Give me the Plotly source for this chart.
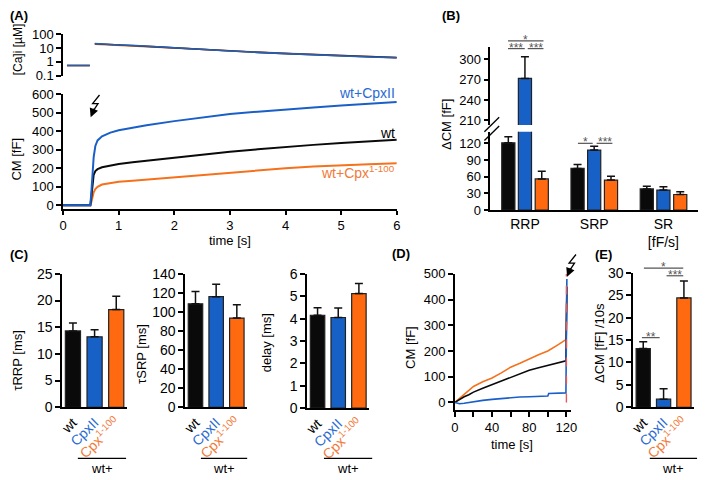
import plotly.graph_objects as go

W, H = 706, 480
def PX(x): return x / W
def PY(y): return 1 - y / H

# ---------------- data ----------------
# (A) calcium
ca_time = [0.07, 0.48, None, 0.57, 0.8, 1.0, 1.3, 1.6, 2.0, 2.5, 3.0, 3.5, 4.0, 4.5, 5.0, 5.5, 6.0]
ca_wt = [0.54, 0.54, None, 20, 17.5, 16, 14.5, 12.5, 10, 7.8, 6.1, 4.8, 3.9, 3.2, 2.7, 2.3, 2.0]
ca_cpx2 = [0.54, 0.54, None, 21, 18, 16.5, 15, 12.5, 10, 7.8, 6.0, 4.8, 3.9, 3.2, 2.6, 2.25, 1.95]
ca_cpx100 = [0.54, 0.54, None, 19, 17, 15.5, 14, 12, 9.8, 7.9, 6.3, 5.0, 4.1, 3.4, 2.8, 2.4, 2.05]

# (A) capacitance
cm_time = [0, 0.25, 0.49, 0.51, 0.53, 0.55, 0.58, 0.62, 0.7, 0.85, 1.0, 1.25, 1.5, 2.0, 2.5, 3.0, 3.5, 4.0, 4.5, 5.0, 5.5, 6.0]
cm_cpx2 = [0, 0, 0, 80, 200, 260, 320, 350, 372, 392, 405, 420, 432, 454, 475, 492, 505, 518, 528, 538, 548, 557]
cm_wt = [0, 0, 0, 50, 120, 165, 185, 195, 205, 215, 223, 232, 240, 257, 274, 289, 302, 315, 326, 336, 345, 353]
cm_cpx100 = [0, 0, 0, 20, 50, 70, 88, 100, 112, 121, 127, 133, 139, 153, 167, 179, 190, 200, 209, 217, 222, 227]

# (B) pool sizes
b_groups = ["RRP", "SRP", "SR"]
b_ticktext = ["RRP", "SRP", "SR<br>[fF/s]"]
b_wt = [121, 75, 38]
b_wt_err = [11, 7, 5]
b_cpx2 = [272, 108, 36]
b_cpx2_err = [32, 7, 6]
b_cpx100 = [56, 54, 28]
b_cpx100_err = [14, 7, 5]

# (C) kinetics
c_cats = ["wt", "CpxII", "Cpx1-100"]
tau_rrp = [14.3, 13.2, 18.3]
tau_rrp_err = [1.5, 1.3, 2.5]
tau_srp = [108.5, 116, 93.6]
tau_srp_err = [13, 13, 14]
delay = [4.15, 4.05, 5.12]
delay_err = [0.33, 0.42, 0.45]

# (D) pre-flash capacitance
d_time = [0, 5, 10, 15, 20, 30, 40, 50, 60, 70, 80, 90, 100, 101, 110, 119.5, 120.5]
d_cpx100 = [0, 15, 30, 45, 62, 80, 95, 115, 137, 152, 170, 185, 200, 202, 222, 244, 420]
d_wt = [0, 12, 22, 30, 40, 55, 69, 85, 100, 112, 125, 135, 144, 146, 152, 162, 450]
d_cpx2 = [0, -5, -3, 0, 3, 8, 12, 15, 20, 21, 22, 23, 25, 35, 36, 37, 480]

# (E) pre-flash rate
e_vals = [13.1, 1.8, 24.4]
e_err = [1.5, 2.3, 3.8]

# ---------------- style ----------------
FONT = "Liberation Sans, Arial, sans-serif"
BLACK = "#0a0a0a"
BLUE = "#1a5fc8"
ORANGE = "#f5711c"
BLUE_T = "#2a6bd2"
ORANGE_T = "#f07a3a"
BAR_BLUE = "#1760c6"
BAR_ORANGE = "#ff6a10"
GRAY = "#555555"
cat_colors = [BLACK, BAR_BLUE, BAR_ORANGE]
cat_text = ["wt",
            "<span style='color:%s'>CpxII</span>" % BLUE_T,
            "<span style='color:%s'>Cpx<sup>1-100</sup></span>" % ORANGE_T]

fig = go.Figure()

def axis_common(**kw):
    d = dict(showline=True, linecolor="black", linewidth=1.5, ticks="outside",
             ticklen=5, tickwidth=1.5, tickcolor="black", showgrid=False,
             zeroline=False, fixedrange=True)
    d.update(kw)
    return d

# A: calcium
for vals, col in [(ca_cpx100, ORANGE), (ca_wt, "#22304a"), (ca_cpx2, "#2a5fb0")]:
    fig.add_trace(go.Scatter(x=ca_time, y=vals, mode="lines", line=dict(color=col, width=1.6),
                             xaxis="x", yaxis="y", showlegend=False, connectgaps=False))
# A: capacitance
for vals, col in [(cm_cpx100, ORANGE), (cm_wt, BLACK), (cm_cpx2, BLUE)]:
    fig.add_trace(go.Scatter(x=cm_time, y=vals, mode="lines", line=dict(color=col, width=2),
                             xaxis="x2", yaxis="y2", showlegend=False))

# B: bars in upper and lower axes
b_specs = [(b_wt, b_wt_err, BLACK, -0.335), (b_cpx2, b_cpx2_err, BAR_BLUE, -0.095),
           (b_cpx100, b_cpx100_err, BAR_ORANGE, 0.148)]
for xa, ya in [("x3", "y3"), ("x4", "y4")]:
    for vals, err, col, off in b_specs:
        fig.add_trace(go.Bar(x=b_groups, y=vals, width=0.19, offset=off,
                             marker=dict(color=col, line=dict(color="#222", width=1.2)),
                             error_y=dict(type="data", array=err, arrayminus=[0] * len(err),
                                          symmetric=False, color="#111", thickness=1.5, width=4),
                             xaxis=xa, yaxis=ya, showlegend=False))

# C and E bars
for vals, err, xa, ya in [(tau_rrp, tau_rrp_err, "x5", "y5"), (tau_srp, tau_srp_err, "x6", "y6"),
                          (delay, delay_err, "x7", "y7"), (e_vals, e_err, "x9", "y9")]:
    fig.add_trace(go.Bar(x=c_cats, y=vals, width=0.7,
                         marker=dict(color=cat_colors, line=dict(color="#222", width=1.2)),
                         error_y=dict(type="data", array=err, arrayminus=[0] * len(err),
                                      symmetric=False, color="#111", thickness=1.5, width=4),
                         xaxis=xa, yaxis=ya, showlegend=False))

# D traces
for vals, col in [(d_cpx100, ORANGE), (d_wt, BLACK), (d_cpx2, BLUE)]:
    fig.add_trace(go.Scatter(x=d_time, y=vals, mode="lines", line=dict(color=col, width=1.6),
                             xaxis="x8", yaxis="y8", showlegend=False))

layout = dict(
    width=W, height=H, margin=dict(l=0, r=0, t=0, b=0),
    paper_bgcolor="white", plot_bgcolor="white",
    font=dict(family=FONT, size=13, color="black"),
    barmode="overlay", showlegend=False,
)

# A axes
layout["xaxis"] = dict(domain=[PX(59), PX(398)], range=[0, 6], visible=False, anchor="y", fixedrange=True)
layout["yaxis"] = axis_common(domain=[PY(70), PY(27)], type="log", range=[-1, 2],
                              tickvals=[0.1, 1, 10, 100], ticktext=["0.1", "1", "10", "100"],
                              anchor="x", tickfont=dict(size=13))
layout["xaxis2"] = axis_common(domain=[PX(59), PX(398)], range=[0, 6], dtick=1, anchor="y2",
                               ticklen=4, tickfont=dict(size=13))
layout["yaxis2"] = axis_common(domain=[PY(208), PY(89)], range=[-20, 600],
                               tickvals=[0, 100, 200, 300, 400, 500, 600], anchor="x2",
                               tickfont=dict(size=13))
# B axes
layout["xaxis3"] = dict(domain=[PX(493), PX(704)], type="category", categoryarray=b_groups,
                        range=[-0.5, 2.5], visible=False, anchor="y3", fixedrange=True)
layout["yaxis3"] = axis_common(domain=[PY(121), PY(40)], range=[203, 319],
                               tickvals=[210, 240, 270, 300], anchor="x3", tickfont=dict(size=13))
layout["xaxis4"] = axis_common(domain=[PX(493), PX(704)], type="category", categoryarray=b_groups,
                               range=[-0.5, 2.5], tickvals=b_groups, ticktext=b_ticktext,
                               ticks="", anchor="y4", tickfont=dict(size=14))
layout["yaxis4"] = axis_common(domain=[PY(209), PY(128)], range=[0, 141],
                               tickvals=[0, 30, 60, 90, 120], anchor="x4", tickfont=dict(size=13))
# C axes
for i, (x0, x1, rng, tv, ybot) in zip([5, 6, 7], [
        (58, 124, [0, 25], [0, 5, 10, 15, 20, 25], 413),
        (183, 246, [0, 140], [0, 20, 40, 60, 80, 100, 120, 140], 413),
        (307, 370, [0, 6], [0, 1, 2, 3, 4, 5, 6], 414)]):
    layout["xaxis%d" % i] = axis_common(domain=[PX(x0), PX(x1)], type="category", categoryarray=c_cats,
                                        range=[-0.5, 2.5], tickvals=c_cats, ticktext=cat_text,
                                        ticks="", tickangle=-45, anchor="y%d" % i,
                                        tickfont=dict(size=14))
    layout["yaxis%d" % i] = axis_common(domain=[PY(ybot), PY(275)], range=rng, tickvals=tv,
                                        anchor="x%d" % i, tickfont=dict(size=14))
# D axes
layout["xaxis8"] = axis_common(domain=[PX(457), PX(575)], range=[0, 125], tickvals=[0, 40, 80, 120],
                               minor=dict(dtick=20, tick0=0, ticks="outside", ticklen=5, tickwidth=1.5,
                                          tickcolor="black"),
                               anchor="y8", tickfont=dict(size=13))
layout["yaxis8"] = axis_common(domain=[PY(416), PY(275)], range=[-30, 500],
                               tickvals=[0, 100, 200, 300, 400, 500], anchor="x8", tickfont=dict(size=13))
# E axes
layout["xaxis9"] = axis_common(domain=[PX(638), PX(700)], type="category", categoryarray=c_cats,
                               range=[-0.5, 2.5], tickvals=c_cats, ticktext=cat_text, ticks="",
                               tickangle=-45, anchor="y9", tickfont=dict(size=14))
layout["yaxis9"] = axis_common(domain=[PY(413), PY(274)], range=[0, 30],
                               tickvals=[0, 5, 10, 15, 20, 25, 30], anchor="x9", tickfont=dict(size=14))

fig.update_layout(**layout)

ann = []
shapes = []

def text(x, y, s, size=13, color="black", angle=0, xanchor="center", yanchor="middle", bold=False):
    if bold:
        s = "<b>%s</b>" % s
    ann.append(dict(x=PX(x), y=PY(y), xref="paper", yref="paper", text=s, showarrow=False,
                    font=dict(size=size, color=color, family=FONT), textangle=angle,
                    xanchor=xanchor, yanchor=yanchor))

def line(x0, y0, x1, y1, color="black", width=1.3, dash=None):
    shapes.append(dict(type="line", xref="paper", yref="paper", x0=PX(x0), y0=PY(y0),
                       x1=PX(x1), y1=PY(y1), line=dict(color=color, width=width, dash=dash)))

def bolt(x, y):
    # zigzag lightning starting at (x,y) top, arrow at end
    p = "M %f %f L %f %f L %f %f L %f %f" % (PX(x), PY(y), PX(x - 7), PY(y + 9),
                                             PX(x - 1.5), PY(y + 9), PX(x - 6), PY(y + 16))
    shapes.append(dict(type="path", xref="paper", yref="paper", path=p,
                       line=dict(color="black", width=1.3)))
    ann.append(dict(x=PX(x - 9), y=PY(y + 23), xref="paper", yref="paper", ax=4, ay=-10,
                    text="", showarrow=True, arrowhead=2, arrowsize=1.1, arrowwidth=1.6,
                    arrowcolor="black"))

# panel labels
text(3, 8, "(A)", 13, xanchor="left", bold=True)
text(442, 8, "(B)", 13, xanchor="left", bold=True)
text(3, 255, "(C)", 13, xanchor="left", bold=True)
text(391, 254, "(D)", 13, xanchor="left", bold=True)
text(597, 255, "(E)", 13, xanchor="left", bold=True)

# axis titles
text(13, 43, "[Ca]i [µM]", 12, angle=-90)
text(12, 156, "CM [fF]", 13, angle=-90)
text(229, 240, "time [s]", 13)
text(449, 121, "ΔCM [fF]", 13, angle=-90)
text(13, 364, "τRRP [ms]", 13, angle=-90)
text(138, 358, "τSRP [ms]", 13, angle=-90)
text(266, 346, "delay [ms]", 13, angle=-90)
text(412, 351, "CM [fF]", 13, angle=-90)
text(515, 452, "time [s]", 13)
text(604, 347, "ΔCM [fF] /10s", 13, angle=-90)

# trace labels in A
text(398, 88, "wt+CpxII", 14, color=BLUE_T, xanchor="right")
text(398, 129, "wt", 14, color="black", xanchor="right")
text(398, 170, "wt+Cpx<sup>1-100</sup>", 14, color=ORANGE_T, xanchor="right")

# lightning bolts
bolt(96, 90)
bolt(580, 255)

# red dashed line in D at flash
shapes.append(dict(type="line", xref="x8", yref="y8", x0=120, x1=120, y0=0, y1=500,
                   line=dict(color="#e05a5a", width=1.4, dash="dash")))

# B axis break marks
line(487, 128, 502, 113)
line(487, 137, 502, 122)

# significance
def sig(x0, x1, y, s):
    line(x0, y, x1, y, color=GRAY, width=1.2)
    text((x0 + x1) / 2, y - 1, s, 12, color=GRAY)

sig(511, 547, 34, "*")
sig(511, 528, 42, "***")
sig(531, 547, 42, "***")
sig(582, 597, 140, "*")
sig(601, 617, 140, "***")
sig(649, 689, 269, "*")
sig(672, 689, 277, "***")
sig(647, 665, 341, "**")

# wt+ group labels
for x0, x1 in [(74, 123), (199, 246), (324, 373), (655, 703)]:
    line(x0, 466, x1, 466, color="black", width=1.2)
    text((x0 + x1) / 2, 476, "wt+", 13)

fig.update_layout(annotations=ann, shapes=shapes)
fig.write_html("out.html", config={"displayModeBar": False},
               post_script="document.body.style.margin='0px';document.body.style.overflow='hidden';")
